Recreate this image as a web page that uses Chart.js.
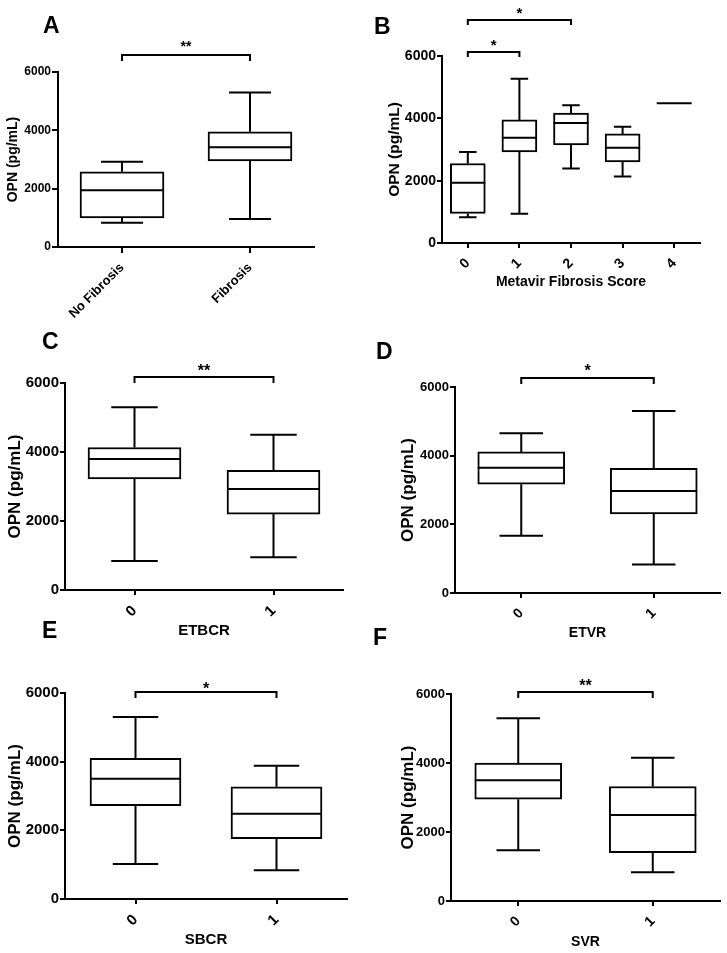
<!DOCTYPE html>
<html><head><meta charset="utf-8">
<script src="https://cdn.jsdelivr.net/npm/chart.js@4.4.1/dist/chart.umd.min.js"></script>
<style>
html,body{margin:0;padding:0;background:#fff;}
#page{position:relative;width:727px;height:953px;overflow:hidden;background:#fff;}
#page canvas{position:absolute;}
.lbl{position:absolute;font-family:'Liberation Sans',Arial,sans-serif;font-weight:bold;font-size:23px;line-height:1;color:#000;}
</style></head><body>
<div id="page">
  <div class="lbl" style="left:43px;top:14px">A</div>
  <div class="lbl" style="left:374px;top:15px">B</div>
  <div class="lbl" style="left:42px;top:330px">C</div>
  <div class="lbl" style="left:376px;top:340px">D</div>
  <div class="lbl" style="left:42px;top:619px">E</div>
  <div class="lbl" style="left:373px;top:626px">F</div>
</div>
<script>
// ---------- DATA ----------
const yTicks = [0, 2000, 4000, 6000];
const yTickLabels = ['0', '2000', '4000', '6000'];
const yTitle = 'OPN (pg/mL)';

// A: Fibrosis
const catsA = ['No Fibrosis', 'Fibrosis'];
const minA = [830, 960];
const q1A  = [1000, 2950];
const medA = [1950, 3420];
const q3A  = [2580, 3950];
const maxA = [2920, 5300];
const sigA = [{from: 0, to: 1, label: '**'}];

// B: Metavir Fibrosis Score
const catsB = ['0', '1', '2', '3', '4'];
const minB = [830, 940, 2390, 2130, 4480];
const q1B  = [950, 2920, 3150, 2600, 4480];
const medB = [1930, 3380, 3850, 3060, 4480];
const q3B  = [2550, 3950, 4170, 3500, 4480];
const maxB = [2920, 5270, 4420, 3730, 4480];
const sigB = [{from: 0, to: 1, label: '*'}, {from: 0, to: 2, label: '*'}];

// C: ETBCR
const catsC = ['0', '1'];
const minC = [840, 950];
const q1C  = [3220, 2200];
const medC = [3800, 2930];
const q3C  = [4130, 3470];
const maxC = [5300, 4500];
const sigC = [{from: 0, to: 1, label: '**'}];

// D: ETVR
const catsD = ['0', '1'];
const minD = [1670, 830];
const q1D  = [3170, 2300];
const medD = [3650, 2970];
const q3D  = [4110, 3630];
const maxD = [4650, 5300];
const sigD = [{from: 0, to: 1, label: '*'}];

// E: SBCR
const catsE = ['0', '1'];
const minE = [1020, 840];
const q1E  = [2720, 1760];
const medE = [3500, 2480];
const q3E  = [4100, 3270];
const maxE = [5300, 3880];
const sigE = [{from: 0, to: 1, label: '*'}];

// F: SVR
const catsF = ['0', '1'];
const minF = [1470, 830];
const q1F  = [2950, 1400];
const medF = [3500, 2490];
const q3F  = [4000, 3320];
const maxF = [5300, 4150];
const sigF = [{from: 0, to: 1, label: '**'}];

// ---------- RENDERING ----------
const FONT = "'Liberation Sans', Arial, Helvetica, sans-serif";
Chart.defaults.font.family = FONT;
Chart.defaults.color = '#000';

const boxPlugin = {
  id: 'boxWhisker',
  afterDatasetsDraw(chart, args, opts) {
    const ctx = chart.ctx;
    const ys = chart.scales.y;
    const meta = chart.getDatasetMeta(0);
    ctx.save();
    ctx.strokeStyle = '#000';
    ctx.lineWidth = 2;
    ctx.lineCap = 'butt';
    meta.data.forEach((bar, i) => {
      const x = bar.x, w = bar.width;
      const py = v => ys.getPixelForValue(v);
      ctx.beginPath();
      ctx.moveTo(x, py(opts.q3[i])); ctx.lineTo(x, py(opts.max[i]));
      ctx.moveTo(x - w / 4, py(opts.max[i])); ctx.lineTo(x + w / 4, py(opts.max[i]));
      ctx.moveTo(x, py(opts.q1[i])); ctx.lineTo(x, py(opts.min[i]));
      ctx.moveTo(x - w / 4, py(opts.min[i])); ctx.lineTo(x + w / 4, py(opts.min[i]));
      ctx.moveTo(x - w / 2, py(opts.med[i])); ctx.lineTo(x + w / 2, py(opts.med[i]));
      ctx.stroke();
    });
    const xs = chart.scales.x;
    const top = chart.chartArea.top;
    (opts.sig || []).forEach((s, k) => {
      const st = opts.sigStyle[k];
      const x1 = xs.getPixelForValue(s.from), x2 = xs.getPixelForValue(s.to);
      const yb = top - st.rise;
      ctx.beginPath();
      ctx.moveTo(x1, yb + st.drop); ctx.lineTo(x1, yb); ctx.lineTo(x2, yb); ctx.lineTo(x2, yb + st.drop);
      ctx.stroke();
      ctx.fillStyle = '#000';
      ctx.font = 'bold ' + opts.starSize + 'px ' + FONT;
      ctx.textAlign = 'center';
      ctx.textBaseline = 'alphabetic';
      ctx.fillText(s.label, (x1 + x2) / 2, yb - st.gap + 0.565 * opts.starSize);
    });
    ctx.restore();
  }
};

const page = document.getElementById('page');

function makePanel(p) {
  const cv = document.createElement('canvas');
  cv.width = p.cw; cv.height = p.ch;
  cv.style.left = p.cx + 'px'; cv.style.top = p.cy + 'px';
  cv.style.width = p.cw + 'px'; cv.style.height = p.ch + 'px';
  page.insertBefore(cv, page.firstChild);
  const yW = p.l - p.cx;
  const padTop = p.t - p.cy;
  const padRight = p.cx + p.cw - p.r;
  const xH = p.xTitle ? (p.xTitleY + p.xTitleSize * 0.6 - p.b) : (p.cy + p.ch - p.b);
  const padBottom = p.cy + p.ch - p.b - xH;
  const yTitlePad = (p.yTitleX - p.cx) - p.yTitleSize * 0.6;
  const gridOpts = {display: true, drawOnChartArea: false, drawTicks: true, tickLength: p.tickLen,
                    color: '#000', lineWidth: 2, offset: false};
  new Chart(cv, {
    type: 'bar',
    data: {
      labels: p.cats,
      datasets: [{
        data: p.q1.map((v, i) => [v, p.q3[i]]),
        backgroundColor: '#fff', borderColor: '#000', borderWidth: 2,
        borderSkipped: false, barThickness: p.boxW
      }]
    },
    options: {
      responsive: false, animation: false, devicePixelRatio: 1,
      layout: {padding: {left: 0, top: padTop, right: padRight, bottom: padBottom}},
      plugins: {
        legend: {display: false}, tooltip: {enabled: false},
        boxWhisker: {min: p.min, q1: p.q1, med: p.med, q3: p.q3, max: p.max,
                     sig: p.sig, sigStyle: p.sigStyle, starSize: p.starSize}
      },
      scales: {
        x: {
          type: 'category', offset: true,
          grid: gridOpts,
          border: {display: true, color: '#000', width: 2},
          ticks: {color: '#000', font: {family: FONT, weight: 'bold', size: p.xTickSize},
                  minRotation: 45, maxRotation: 45, padding: 7, autoSkip: false},
          title: {display: !!p.xTitle, text: p.xTitle || '', color: '#000',
                  font: {family: FONT, weight: 'bold', size: p.xTitleSize}, padding: {top: 0, bottom: 0}},
          afterFit: s => { s.height = xH; }
        },
        y: {
          min: 0, max: 6000,
          afterBuildTicks: s => { s.ticks = yTicks.map(v => ({value: v})); },
          grid: gridOpts,
          border: {display: true, color: '#000', width: 2},
          ticks: {color: '#000', font: {family: FONT, weight: 'bold', size: p.yTickSize}, padding: 1,
                  callback: (v, i) => yTickLabels[i]},
          title: {display: true, text: yTitle, color: '#000',
                  font: {family: FONT, weight: 'bold', size: p.yTitleSize}, padding: {top: yTitlePad, bottom: 0}},
          afterFit: s => { s.width = yW; }
        }
      }
    },
    plugins: [boxPlugin]
  });
}

makePanel({cx: 0, cy: 0, cw: 360, ch: 330, l: 58, r: 314, t: 72, b: 247, boxW: 84,
  cats: catsA, min: minA, q1: q1A, med: medA, q3: q3A, max: maxA,
  yTickSize: 12, yTitleSize: 14, yTitleX: 13, xTickSize: 13, tickLen: 6,
  sig: sigA, sigStyle: [{rise: 17, drop: 6, gap: 11.5}], starSize: 14});

makePanel({cx: 360, cy: 0, cw: 367, ch: 330, l: 442, r: 700, t: 56, b: 243, boxW: 35,
  cats: catsB, min: minB, q1: q1B, med: medB, q3: q3B, max: maxB,
  yTickSize: 14, yTitleSize: 15.5, yTitleX: 395, xTickSize: 14, tickLen: 5,
  xTitle: 'Metavir Fibrosis Score', xTitleSize: 14, xTitleY: 282,
  sig: sigB, sigStyle: [{rise: 4, drop: 5, gap: 10}, {rise: 36, drop: 5, gap: 10}], starSize: 15});

makePanel({cx: 0, cy: 330, cw: 360, ch: 312, l: 65, r: 343, t: 383, b: 590, boxW: 93,
  cats: catsC, min: minC, q1: q1C, med: medC, q3: q3C, max: maxC,
  yTickSize: 15, yTitleSize: 17, yTitleX: 15, xTickSize: 15, tickLen: 5,
  xTitle: 'ETBCR', xTitleSize: 15, xTitleY: 631,
  sig: sigC, sigStyle: [{rise: 6, drop: 6, gap: 10.5}], starSize: 16});

makePanel({cx: 360, cy: 330, cw: 367, ch: 315, l: 455, r: 720, t: 387, b: 593, boxW: 87,
  cats: catsD, min: minD, q1: q1D, med: medD, q3: q3D, max: maxD,
  yTickSize: 13, yTitleSize: 17, yTitleX: 408, xTickSize: 14, tickLen: 5,
  xTitle: 'ETVR', xTitleSize: 14, xTitleY: 633,
  sig: sigD, sigStyle: [{rise: 9, drop: 6, gap: 11}], starSize: 16});

makePanel({cx: 0, cy: 640, cw: 360, ch: 313, l: 65, r: 347, t: 693, b: 899, boxW: 91,
  cats: catsE, min: minE, q1: q1E, med: medE, q3: q3E, max: maxE,
  yTickSize: 15, yTitleSize: 17, yTitleX: 15, xTickSize: 15, tickLen: 5,
  xTitle: 'SBCR', xTitleSize: 15, xTitleY: 940,
  sig: sigE, sigStyle: [{rise: 1, drop: 6, gap: 7}], starSize: 16});

makePanel({cx: 360, cy: 640, cw: 367, ch: 313, l: 451, r: 720, t: 694, b: 901, boxW: 87,
  cats: catsF, min: minF, q1: q1F, med: medF, q3: q3F, max: maxF,
  yTickSize: 13, yTitleSize: 17, yTitleX: 408, xTickSize: 14, tickLen: 5,
  xTitle: 'SVR', xTitleSize: 14, xTitleY: 942,
  sig: sigF, sigStyle: [{rise: 2, drop: 6, gap: 10}], starSize: 16});
</script>
</body></html>
